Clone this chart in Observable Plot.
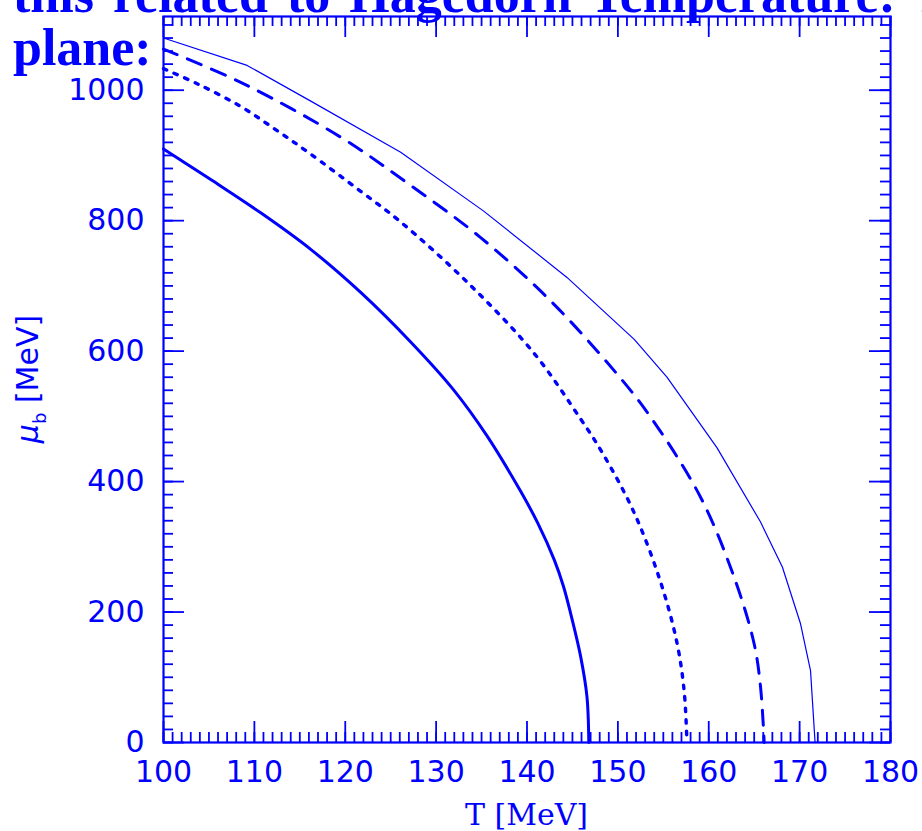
<!DOCTYPE html>
<html><head><meta charset="utf-8">
<script src="https://cdn.jsdelivr.net/npm/d3@7"></script>
<script src="https://cdn.jsdelivr.net/npm/@observablehq/plot@0.6"></script>
<style>
html,body{margin:0;padding:0;background:#fff;overflow:hidden;width:922px;height:831px;}
#wrap{position:relative;width:922px;height:831px;overflow:hidden;}
#chart{position:absolute;left:0;top:0;}
#title{position:absolute;left:13px;top:-32px;font-family:"Liberation Serif",serif;font-weight:bold;font-size:52px;line-height:53px;color:#0000ff;white-space:nowrap;z-index:2;pointer-events:none;}
#title .l1{word-spacing:6px;}
</style>
</head><body>
<div id="wrap"><div id="chart"></div>
<div id="title"><span class="l1">this related to Hagedorn Temperature: T</span><br>plane:</div></div>
<script>
// tick labels
const xTicks = [100, 110, 120, 130, 140, 150, 160, 170, 180];
const yTicks = [0, 200, 400, 600, 800, 1000];

// curve 1: thick solid
const thickT  = [100, 105.2, 110.7, 116.2, 121.7, 127.2, 131.9, 135.6, 139.3, 141.2, 143.0, 144.0, 144.8, 145.9, 146.6, 146.8];
const thickMu = [910, 863, 812, 756, 690, 614, 541, 470, 385, 336, 280, 240, 198, 132, 70, 0];
// curve 2: dotted
const dotT  = [100, 103.7, 108.5, 112.3, 116.0, 121.7, 126.1, 133.4, 140.7, 145.9, 148.3, 151.8, 154.7, 156.5, 157.3, 157.6];
const dotMu = [1033, 1010, 975, 940, 904, 845, 798, 706, 598, 496, 444, 352, 246, 153, 78, 0];
// curve 3: dashed
const dashT  = [100, 108.5, 119.5, 127.0, 134.9, 142.6, 149.9, 153.6, 159.1, 162.8, 165.0, 165.7, 166.1];
const dashMu = [1063, 1012, 928, 856, 774, 677, 565, 499, 376, 253, 151, 85, 0];
// curve 4: thin solid
const thinT  = [100, 109.2, 116.5, 126.1, 135.2, 144.4, 151.8, 155.4, 160.9, 165.7, 168.1, 170.1, 171.2, 171.7];
const thinMu = [1080, 1038, 981, 905, 815, 713, 618, 560, 452, 338, 269, 182, 110, 0];

const blue = "#0000ff";
const W = 922, H = 831, mL = 163, mR = 32, mT = 16, mB = 89;
const plotW = W - mL - mR, plotH = H - mT - mB;

const toRows = (T, M) => T.map((t, i) => ({T: t, mu: M[i]}));
const xMinor = d3.range(100, 181, 1);
const xMajor = xTicks;
const yMinor = d3.range(0, 1101, 20);
const yMajor = d3.range(0, 1101, 200);

const tickStyle = {stroke: blue, strokeWidth: 1.8};

const svg = Plot.plot({
  width: W, height: H,
  marginLeft: mL, marginRight: mR, marginTop: mT, marginBottom: mB,
  style: {fontFamily: "DejaVu Sans, sans-serif", fontSize: "30px", color: blue, background: "transparent", overflow: "visible"},
  x: {domain: [100, 180], ticks: xTicks, tickSize: 0, tickPadding: 18, label: null, tickFormat: d => String(d)},
  y: {domain: [0, 1113], ticks: yTicks, tickSize: 0, tickPadding: 19, label: null, tickFormat: d => String(d)},
  marks: [
    Plot.ruleX(xMinor, {x: d => d, insetTop: plotH - 10, ...tickStyle}),
    Plot.ruleX(xMinor, {x: d => d, insetBottom: plotH - 10, ...tickStyle}),
    Plot.ruleX(xMajor, {x: d => d, insetTop: plotH - 21, ...tickStyle}),
    Plot.ruleX(xMajor, {x: d => d, insetBottom: plotH - 21, ...tickStyle}),
    Plot.ruleY(yMinor, {y: d => d, insetRight: plotW - 10, ...tickStyle}),
    Plot.ruleY(yMinor, {y: d => d, insetLeft: plotW - 10, ...tickStyle}),
    Plot.ruleY(yMajor, {y: d => d, insetRight: plotW - 21, ...tickStyle}),
    Plot.ruleY(yMajor, {y: d => d, insetLeft: plotW - 21, ...tickStyle}),
    Plot.line(toRows(thickT, thickMu), {x: "T", y: "mu", stroke: blue, strokeWidth: 3, curve: "catmull-rom"}),
    Plot.line(toRows(dotT, dotMu), {x: "T", y: "mu", stroke: blue, strokeWidth: 3.4, strokeDasharray: "3.5,8", curve: "catmull-rom"}),
    Plot.line(toRows(dashT, dashMu), {x: "T", y: "mu", stroke: blue, strokeWidth: 3, strokeDasharray: "15,11", curve: "catmull-rom"}),
    Plot.line(toRows(thinT, thinMu), {x: "T", y: "mu", stroke: blue, strokeWidth: 1.2}),
    Plot.frame({stroke: blue, strokeWidth: 2.2})
  ]
});
document.getElementById("chart").appendChild(svg);

const s = d3.select(svg);
// x axis label
s.append("text")
  .attr("x", mL + plotW / 2).attr("y", 825)
  .attr("text-anchor", "middle")
  .attr("fill", blue)
  .style("font-family", "DejaVu Serif, serif")
  .style("font-size", "30px")
  .text("T [MeV]");
// y axis label
const yl = s.append("text")
  .attr("transform", `translate(38,${mT + plotH / 2}) rotate(-90)`)
  .attr("text-anchor", "middle")
  .attr("fill", blue)
  .style("font-family", "DejaVu Sans, sans-serif")
  .style("font-size", "30px");
yl.append("tspan").style("font-style", "italic").text("μ");
yl.append("tspan").style("font-size", "18px").attr("dy", 8).text("b");
yl.append("tspan").attr("dy", -8).text(" [MeV]");
</script>
</body></html>
